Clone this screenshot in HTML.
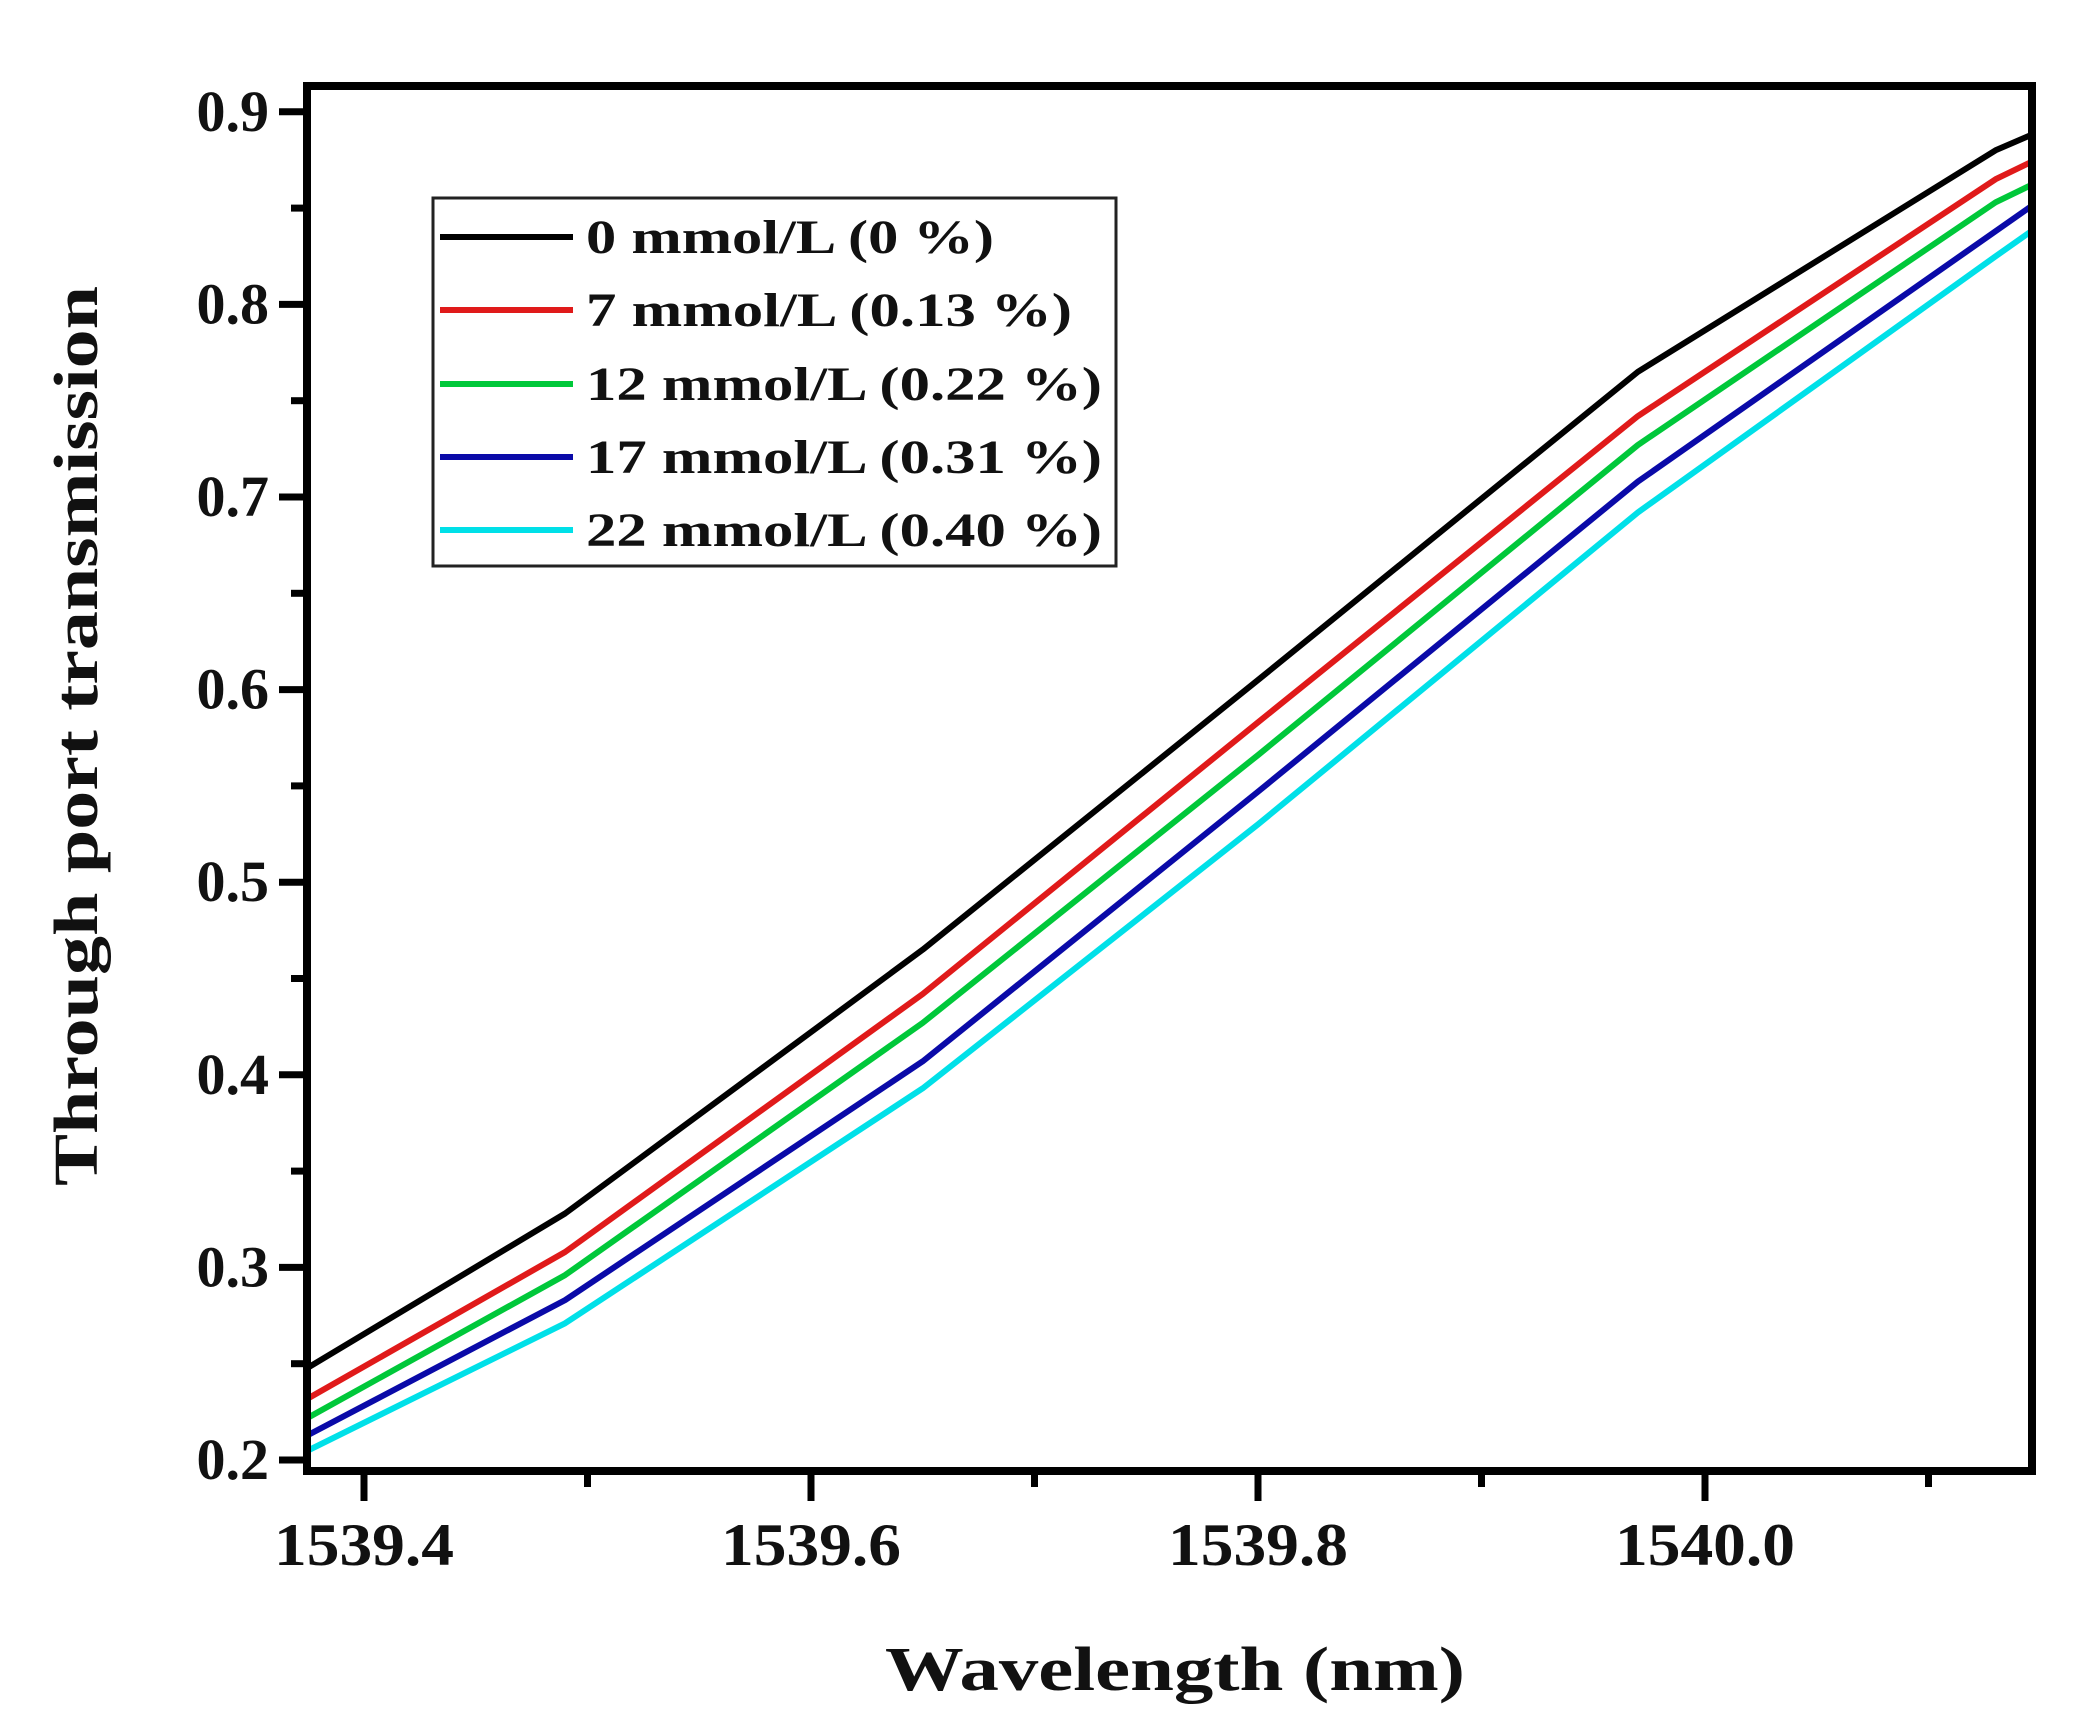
<!DOCTYPE html>
<html><head><meta charset="utf-8"><style>
html,body{margin:0;padding:0;background:#fff;width:2078px;height:1733px;overflow:hidden}
svg text{font-family:"Liberation Serif",serif;font-weight:bold;fill:#111}
</style></head><body>
<svg id="chart" width="2078" height="1733" viewBox="0 0 2078 1733" xmlns="http://www.w3.org/2000/svg">
<rect width="2078" height="1733" fill="#fff"/>
<g id="series"></g>
<g id="axes"></g>
<g id="legend"></g>
<text x="1175" y="1690" text-anchor="middle" font-size="62" textLength="580" lengthAdjust="spacingAndGlyphs">Wavelength (nm)</text>
<text x="0" y="0" transform="translate(97,736) rotate(-90)" text-anchor="middle" font-size="62" textLength="900" lengthAdjust="spacingAndGlyphs">Through port transmission</text>
</svg>
<script>
const wavelengths=[1539.375,1539.49,1539.65,1539.8,1539.97,1540.13,1540.146];
const series0=[0.248,0.328,0.465,0.605,0.765,0.880,0.888];
const series7=[0.232,0.308,0.442,0.583,0.742,0.865,0.874];
const series12=[0.222,0.296,0.427,0.566,0.727,0.853,0.862];
const series17=[0.213,0.283,0.407,0.547,0.708,0.838,0.851];
const series22=[0.205,0.271,0.393,0.530,0.692,0.825,0.838];
const seriesLabels=["0 mmol/L (0 %)","7 mmol/L (0.13 %)","12 mmol/L (0.22 %)","17 mmol/L (0.31 %)","22 mmol/L (0.40 %)"];
const xTicks=[1539.4,1539.6,1539.8,1540.0];
const xTickLabels=["1539.4","1539.6","1539.8","1540.0"];
const yTicks=[0.2,0.3,0.4,0.5,0.6,0.7,0.8,0.9];
const yTickLabels=["0.2","0.3","0.4","0.5","0.6","0.7","0.8","0.9"];

const NS="http://www.w3.org/2000/svg";
const L=307,R=2032,T=86,B=1471;
const X0=1539.4,XPX=364,XSCALE=2235;
const xs=v=>XPX+(v-X0)*XSCALE;
const ys=v=>1460-(v-0.2)*1926;
const colors=["#000000","#e01a1a","#00c83a","#0a0aa8","#00e0e8"];
const names=["series-0-mmol","series-7-mmol","series-12-mmol","series-17-mmol","series-22-mmol"];
const allSeries=[series0,series7,series12,series17,series22];
function mk(tag,attrs,parent){const e=document.createElementNS(NS,tag);for(const k in attrs)e.setAttribute(k,attrs[k]);parent.appendChild(e);return e;}
const sg=document.getElementById('series');
allSeries.forEach((s,i)=>{
  const d=s.map((v,j)=>(j?'L':'M')+xs(wavelengths[j]).toFixed(1)+','+ys(v).toFixed(1)).join(' ');
  const p=mk('path',{d:d,fill:'none',stroke:colors[i],'stroke-width':6,'stroke-linejoin':'round'},sg);
  
  
});
const ag=document.getElementById('axes');
const frame=mk('rect',{x:L,y:T,width:R-L,height:B-T,fill:'none',stroke:'#000','stroke-width':8},ag);


yTicks.forEach((v,i)=>{
  const y=ys(v);
  const t=mk('line',{x1:L-28,x2:L,y1:y,y2:y,stroke:'#000','stroke-width':7},ag);
  
  
  const lb=mk('text',{x:L-38,y:y+19,'text-anchor':'end','font-size':58},ag);
  lb.textContent=yTickLabels[i];
  
  
  if(v<0.9){const m=mk('line',{x1:L-16,x2:L,y1:ys(v+0.05),y2:ys(v+0.05),stroke:'#000','stroke-width':7},ag);
  
  }
});
xTicks.forEach((v,i)=>{
  const x=xs(v);
  const t=mk('line',{x1:x,x2:x,y1:B,y2:B+30,stroke:'#000','stroke-width':7},ag);
  
  
  const lb=mk('text',{x:x,y:1565,'text-anchor':'middle','font-size':60,textLength:180,lengthAdjust:'spacingAndGlyphs'},ag);
  lb.textContent=xTickLabels[i];
  
  
  const mx=xs(v+0.1);
  if(mx<R){const m=mk('line',{x1:mx,x2:mx,y1:B,y2:B+16,stroke:'#000','stroke-width':7},ag);
  
  }
});
const lg=document.getElementById('legend');
const box=mk('rect',{x:433,y:198,width:683,height:368,fill:'#fff',stroke:'#222','stroke-width':3},lg);


const rowY=[237,310,384,457,530];
const textW=[408,486,516,516,516];
seriesLabels.forEach((s,i)=>{
  const ln=mk('line',{x1:440,x2:573,y1:rowY[i],y2:rowY[i],stroke:colors[i],'stroke-width':6},lg);
  
  
  const tx=mk('text',{x:586,y:rowY[i]+16,'font-size':48,textLength:textW[i],lengthAdjust:'spacingAndGlyphs'},lg);
  tx.textContent=s;
  
  
});
</script>
</body></html>
